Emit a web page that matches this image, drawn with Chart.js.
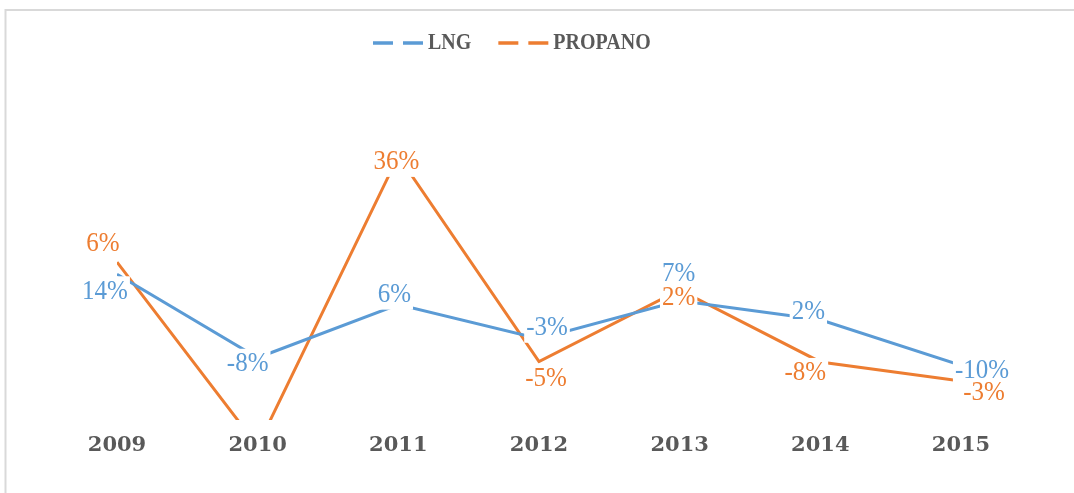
<!DOCTYPE html>
<html>
<head>
<meta charset="utf-8">
<script src="https://cdn.jsdelivr.net/npm/chart.js@4.4.1/dist/chart.umd.min.js"></script>
<style>
  html, body { margin: 0; padding: 0; background: #ffffff; }
  #c { display: block; }
</style>
</head>
<body>
<canvas id="c" width="1074" height="493"></canvas>
<script>
// ---- data ----
const years = ['2009', '2010', '2011', '2012', '2013', '2014', '2015'];
const lngValues = [14, -8, 6, -3, 7, 2, -10];
// PROPANO line positions (same scale as LNG)
const propanoValues = [17.2, -31.3, 45.2, -9.0, 9.9, -9.1, -14.1];
const lngLabels = ['14%', '-8%', '6%', '-3%', '7%', '2%', '-10%'];
const propanoLabels = ['6%', null, '36%', '-5%', '2%', '-8%', '-3%'];
const seriesNames = ['LNG', 'PROPANO'];

// ---- styles ----
const BLUE = '#5B9BD5';
const ORANGE = '#ED7D31';
const GREY_TEXT = '#595959';

const labelOffsets = [
  [[-12, 17], [-10, 6], [-4, -10], [8, -11], [-1, -27], [-12, -8], [21, 5]],
  [[-14, -18], [0, 0], [-2, 6], [7, 17], [-1, 8], [-15, 11], [23, 12]]
];
const seriesLabels = [lngLabels, propanoLabels];

function stretchedText(ctx, txt, x, y, sy) {
  ctx.save();
  ctx.translate(x, y);
  ctx.scale(1, sy);
  ctx.fillText(txt, 0, 0);
  ctx.restore();
}

const framePlugin = {
  id: 'frame',
  beforeDraw(chart) {
    const ctx = chart.ctx;
    ctx.save();
    ctx.fillStyle = '#ffffff';
    ctx.fillRect(0, 0, chart.width, chart.height);
    ctx.strokeStyle = '#d9d9d9';
    ctx.lineWidth = 2;
    ctx.beginPath();
    ctx.moveTo(5.5, chart.height + 5);
    ctx.lineTo(5.5, 10);
    ctx.lineTo(chart.width + 5, 10);
    ctx.stroke();
    ctx.restore();
  }
};

const legendPlugin = {
  id: 'customLegend',
  afterDraw(chart) {
    const ctx = chart.ctx;
    ctx.save();
    ctx.font = 'bold 20px "Liberation Serif"';
    ctx.textBaseline = 'middle';
    ctx.textAlign = 'left';
    let x = 373;
    const y = 43;
    chart.data.datasets.forEach((ds) => {
      ctx.strokeStyle = ds.borderColor;
      ctx.lineWidth = 3.5;
      ctx.setLineDash([20, 10]);
      ctx.beginPath();
      ctx.moveTo(x, y);
      ctx.lineTo(x + 52, y);
      ctx.stroke();
      ctx.setLineDash([]);
      ctx.fillStyle = GREY_TEXT;
      stretchedText(ctx, ds.label, x + 55, y, 1.15);
      x += 55 + ctx.measureText(ds.label).width + 27;
    });
    ctx.restore();
  }
};

const dataLabelPlugin = {
  id: 'pointLabels',
  afterDatasetsDraw(chart) {
    const ctx = chart.ctx;
    ctx.save();
    ctx.font = '25px "Liberation Serif"';
    ctx.textAlign = 'center';
    ctx.textBaseline = 'middle';
    const items = [];
    chart.data.datasets.forEach((ds, i) => {
      const meta = chart.getDatasetMeta(i);
      meta.data.forEach((pt, j) => {
        const txt = seriesLabels[i][j];
        if (!txt) return;
        const off = labelOffsets[i][j];
        items.push({ x: pt.x + off[0], y: pt.y + off[1], txt, color: ds.borderColor });
      });
    });
    // white label boxes first, then the texts
    ctx.fillStyle = '#ffffff';
    items.forEach(it => {
      const w = ctx.measureText(it.txt).width + 4;
      ctx.fillRect(it.x - w / 2, it.y - 15, w, 30);
    });
    items.forEach(it => {
      ctx.fillStyle = it.color;
      stretchedText(ctx, it.txt, it.x, it.y, 1.1);
    });
    ctx.restore();
  }
};

new Chart(document.getElementById('c'), {
  type: 'line',
  data: {
    labels: years,
    datasets: [
      { label: seriesNames[0], data: lngValues, borderColor: BLUE, backgroundColor: BLUE,
        borderWidth: 3, pointRadius: 0, tension: 0, fill: false, clip: 0 },
      { label: seriesNames[1], data: propanoValues, borderColor: ORANGE, backgroundColor: ORANGE,
        borderWidth: 3, pointRadius: 0, tension: 0, fill: false, clip: 0 }
    ]
  },
  options: {
    responsive: false,
    animation: false,
    events: [],
    layout: { padding: { left: 117, right: 113, top: 80, bottom: 0 } },
    plugins: { legend: { display: false }, tooltip: { enabled: false } },
    scales: {
      x: {
        offset: false,
        grid: { display: false, drawTicks: false },
        border: { display: false },
        ticks: {
          padding: 13,
          color: GREY_TEXT,
          autoSkip: false,
          maxRotation: 0,
          font: { family: 'DejaVu Serif', weight: 'bold', size: 21 }
        },
        afterFit(scale) { scale.height = 73; }
      },
      y: { display: false, min: -24.4, max: 65.2 }
    }
  },
  plugins: [framePlugin, dataLabelPlugin, legendPlugin]
});
</script>
</body>
</html>
